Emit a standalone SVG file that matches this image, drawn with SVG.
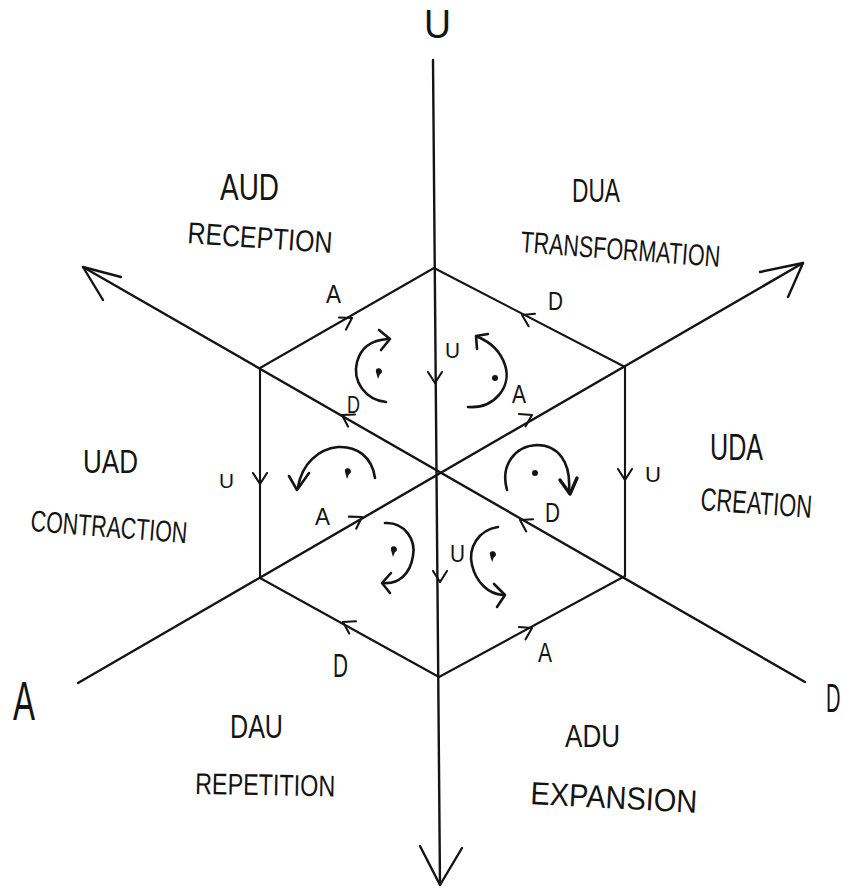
<svg xmlns="http://www.w3.org/2000/svg" xmlns:xlink="http://www.w3.org/1999/xlink" width="842" height="890" viewBox="0 0 842 890">
  <style>
    .ln { fill: none; stroke: #141414; stroke-width: 2.4; stroke-linecap: round; stroke-linejoin: round; }
    .thin { fill: none; stroke: #141414; stroke-width: 2.1; stroke-linecap: round; stroke-linejoin: round; }
    .rot { fill: none; stroke: #141414; stroke-width: 2.6; stroke-linecap: round; stroke-linejoin: round; }
    .dot { fill: #141414; }
    text { font-family: "Liberation Sans", "DejaVu Sans", sans-serif; fill: #141414; }
    .big { font-size: 40px; }
    .lbl { font-size: 32px; }
    .sub { font-size: 30px; }
    .sm { font-size: 26px; }
  </style>
  <defs>
    <!-- small open chevron pointing along +x, tip at origin -->
    <path id="chev" class="thin" d="M-11,-7 L0,0 L-11,7"/>
  </defs>

  <rect width="842" height="890" fill="#ffffff"/>

  <!-- axes and hexagon edges -->
  <g id="connectors">
    <!-- U axis (vertical) -->
    <path class="ln" d="M433,60 L440,885"/>
    <path class="ln" d="M420,846 L440,885 L462,848"/>
    <!-- A-D diagonal rising to the upper left -->
    <path class="ln" d="M83,267 L805,682"/>
    <path class="ln" d="M121,277 L83,267 L103,300"/>
    <!-- A-D diagonal rising to the upper right -->
    <path class="ln" d="M78,683 L803,263"/>
    <path class="ln" d="M760,272 L803,263 L788,297"/>

    <!-- hexagon outline -->
    <path class="thin" d="M260,368 L434,268 L625,367 L625,576 L439,677 L260,578 Z"/>

    <!-- flow chevrons on the edges -->
    <use xlink:href="#chev" transform="translate(352,318) rotate(-30)"/>
    <use xlink:href="#chev" transform="translate(522,315) rotate(207)"/>
    <use xlink:href="#chev" transform="translate(435,383) rotate(90)"/>
    <use xlink:href="#chev" transform="translate(342,415) rotate(210)"/>
    <use xlink:href="#chev" transform="translate(532,415) rotate(-28)"/>
    <use xlink:href="#chev" transform="translate(260,484) rotate(90)"/>
    <use xlink:href="#chev" transform="translate(625,480) rotate(90)"/>
    <use xlink:href="#chev" transform="translate(362,517) rotate(-31)"/>
    <use xlink:href="#chev" transform="translate(520,520) rotate(209)"/>
    <use xlink:href="#chev" transform="translate(343,622) rotate(209)"/>
    <use xlink:href="#chev" transform="translate(532,628) rotate(-28)"/>
    <use xlink:href="#chev" transform="translate(440,582) rotate(90)"/>
  </g>

  <!-- edge letters -->
  <g id="edge-labels">
    <text class="sm" x="326" y="303" textLength="15" lengthAdjust="spacingAndGlyphs">A</text>
    <text class="sm" x="548" y="310" textLength="15" lengthAdjust="spacingAndGlyphs">D</text>
    <text style="font-size:22px" x="445" y="358" textLength="15" lengthAdjust="spacingAndGlyphs">U</text>
    <text style="font-size:24px" x="347" y="413" textLength="13" lengthAdjust="spacingAndGlyphs">D</text>
    <text class="sm" x="512" y="403" textLength="14" lengthAdjust="spacingAndGlyphs">A</text>
    <text style="font-size:20px" x="219" y="488" textLength="15" lengthAdjust="spacingAndGlyphs">U</text>
    <text style="font-size:22px" x="645" y="482" textLength="16" lengthAdjust="spacingAndGlyphs">U</text>
    <text style="font-size:24px" x="315" y="525" textLength="15" lengthAdjust="spacingAndGlyphs">A</text>
    <text style="font-size:28px" x="545" y="522" textLength="15" lengthAdjust="spacingAndGlyphs">D</text>
    <text style="font-size:34px" x="333" y="677" textLength="15" lengthAdjust="spacingAndGlyphs">D</text>
    <text style="font-size:28px" x="538" y="662" textLength="14" lengthAdjust="spacingAndGlyphs">A</text>
    <text style="font-size:24px" x="450" y="562" textLength="15" lengthAdjust="spacingAndGlyphs">U</text>
  </g>

  <!-- rotation marks inside the six triangles -->
  <g id="rotations">
    <g id="rot-reception">
      <path class="rot" d="M386,402 C366,400 352,382 357,362 C361,347 372,340 388,339"/>
      <path class="rot" d="M379,330 L390,339 L381,350"/>
      <path class="dot" d="M376,372 a3,3 0 1,1 4,2 l-2,5 z"/>
    </g>
    <g id="rot-transformation">
      <path class="rot" d="M468,407 C495,409 512,386 505,365 C500,350 490,342 478,337"/>
      <path class="rot" d="M477,349 L476,336 L488,334"/>
      <circle class="dot" cx="495" cy="378" r="3"/>
    </g>
    <g id="rot-contraction">
      <path class="rot" d="M375,478 C372,456 356,446 338,447 C318,449 302,464 298,487"/>
      <path class="rot" d="M289,476 L297,490 L309,473"/>
      <path class="dot" d="M345,472 a3,3 0 1,1 4,2 l-2,5 z"/>
    </g>
    <g id="rot-creation">
      <path class="rot" d="M507,490 C500,465 515,446 537,445 C558,445 571,462 569,490"/>
      <path class="rot" d="M560,480 L570,494 L577,478" style="stroke-width:3.4"/>
      <circle class="dot" cx="535" cy="473" r="3"/>
    </g>
    <g id="rot-repetition">
      <path class="rot" d="M385,523 C405,522 416,540 413,556 C410,575 398,584 384,583"/>
      <path class="rot" d="M391,573 L382,583 L390,593"/>
      <path class="dot" d="M391,550 a3,3 0 1,1 4,2 l-2,5 z"/>
    </g>
    <g id="rot-expansion">
      <path class="rot" d="M498,527 C478,530 468,548 472,565 C476,582 488,594 503,595"/>
      <path class="rot" d="M494,584 L505,595 L497,607"/>
      <path class="dot" d="M490,555 a3,3 0 1,1 4,2 l-2,5 z"/>
    </g>
  </g>

  <!-- axis end letters -->
  <g id="axis-u"><text class="big" x="424" y="38" textLength="27" lengthAdjust="spacingAndGlyphs">U</text></g>
  <g id="axis-a"><text style="font-size:56px" x="13" y="720" textLength="22" lengthAdjust="spacingAndGlyphs">A</text></g>
  <g id="axis-d"><text class="big" transform="translate(826,712) scale(0.5,1)">D</text></g>

  <!-- sector captions -->
  <g id="sector-aud">
    <text style="font-size:36px" x="220" y="200" textLength="59" lengthAdjust="spacingAndGlyphs">AUD</text>
    <text class="sub" x="187" y="243" textLength="145" lengthAdjust="spacingAndGlyphs" transform="rotate(4 187 243)">RECEPTION</text>
  </g>
  <g id="sector-dua">
    <text style="font-size:34px" x="572" y="202" textLength="48" lengthAdjust="spacingAndGlyphs">DUA</text>
    <text class="sub" x="520" y="252" textLength="200" lengthAdjust="spacingAndGlyphs" transform="rotate(4.3 520 252)">TRANSFORMATION</text>
  </g>
  <g id="sector-uad">
    <text style="font-size:34px" x="83" y="473" textLength="55" lengthAdjust="spacingAndGlyphs">UAD</text>
    <text class="sub" x="30" y="531" textLength="157" lengthAdjust="spacingAndGlyphs" transform="rotate(4.5 30 531)">CONTRACTION</text>
  </g>
  <g id="sector-uda">
    <text style="font-size:36px" x="710" y="460" textLength="53" lengthAdjust="spacingAndGlyphs">UDA</text>
    <text class="lbl" transform="translate(700,510) rotate(4) scale(0.685,1)">CREATION</text>
  </g>
  <g id="sector-dau">
    <text style="font-size:34px" x="230" y="738" textLength="53" lengthAdjust="spacingAndGlyphs">DAU</text>
    <text class="sub" x="195" y="794" textLength="140" lengthAdjust="spacingAndGlyphs" transform="rotate(1 195 794)">REPETITION</text>
  </g>
  <g id="sector-adu">
    <text class="lbl" x="565" y="747" textLength="55" lengthAdjust="spacingAndGlyphs">ADU</text>
    <text class="lbl" x="530" y="804" textLength="167" lengthAdjust="spacingAndGlyphs" transform="rotate(3 530 804)">EXPANSION</text>
  </g>
</svg>
